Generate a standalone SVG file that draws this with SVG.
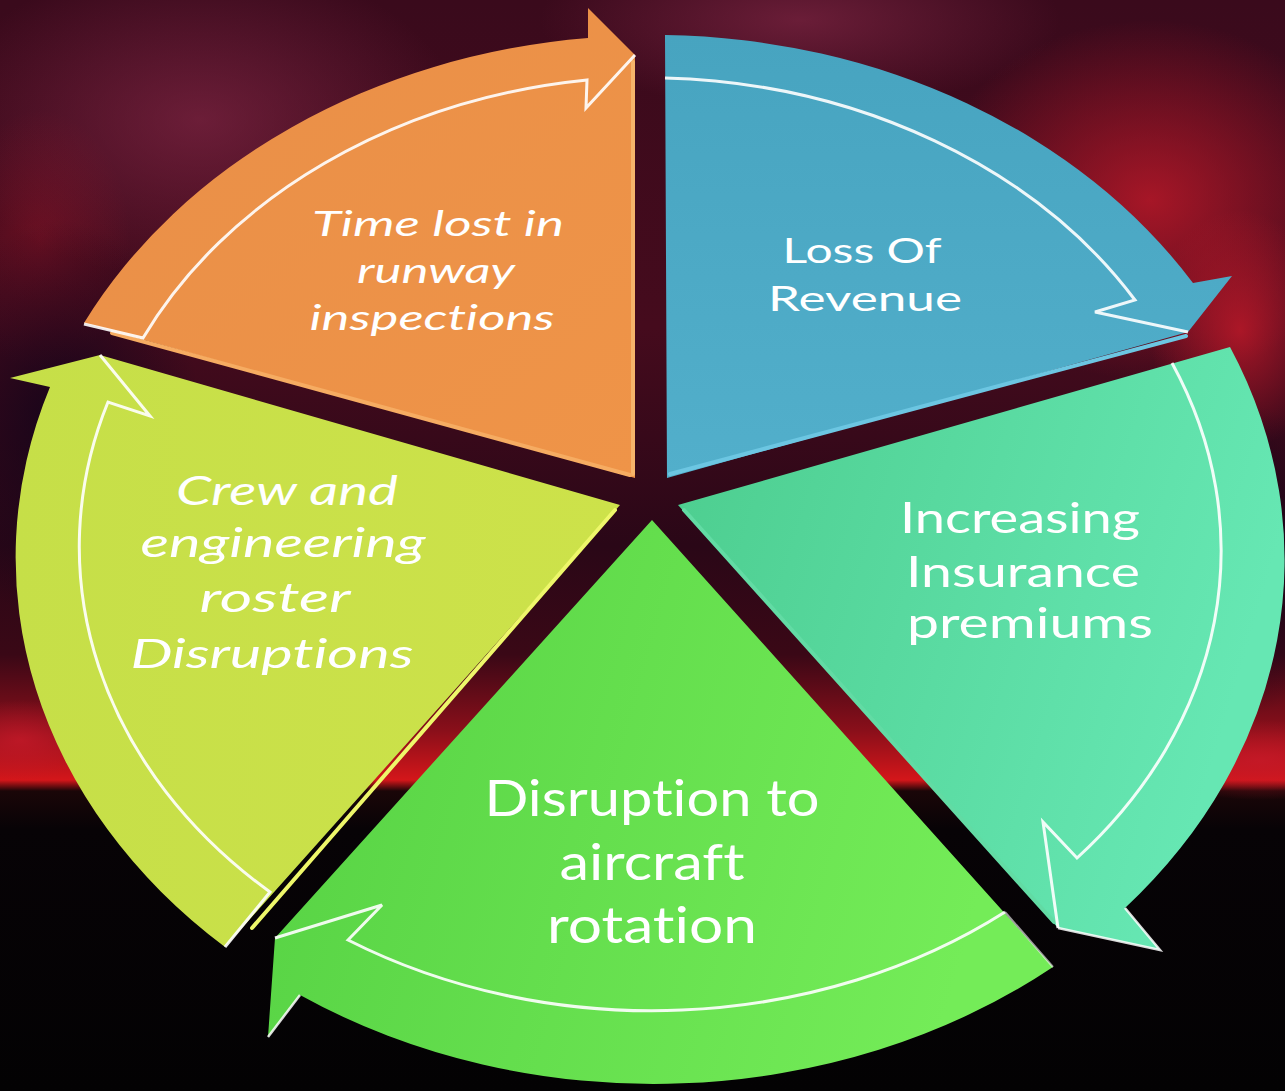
<svg xmlns="http://www.w3.org/2000/svg" width="1285" height="1091" viewBox="0 0 1285 1091">
<defs>
<linearGradient id="bg" x1="0" y1="0" x2="0" y2="1">
<stop offset="0" stop-color="#3a0a1c"/>
<stop offset="0.3" stop-color="#450b1d"/>
<stop offset="0.5" stop-color="#2a0717"/>
<stop offset="0.6" stop-color="#3a0816"/>
<stop offset="0.67" stop-color="#8a0f1a"/>
<stop offset="0.715" stop-color="#d4161a"/>
<stop offset="0.725" stop-color="#1a0608"/>
<stop offset="0.76" stop-color="#070306"/>
<stop offset="1" stop-color="#030203"/>
</linearGradient>
<radialGradient id="cloudR" cx="0.5" cy="0.5" r="0.5">
<stop offset="0" stop-color="#c81a2a" stop-opacity="0.75"/>
<stop offset="1" stop-color="#c81a2a" stop-opacity="0"/>
</radialGradient>
<radialGradient id="cloudS" cx="0.5" cy="0.5" r="0.5">
<stop offset="0" stop-color="#b0182a" stop-opacity="0.35"/>
<stop offset="1" stop-color="#b0182a" stop-opacity="0"/>
</radialGradient>
<radialGradient id="cloudP" cx="0.5" cy="0.5" r="0.5">
<stop offset="0" stop-color="#8a2a4a" stop-opacity="0.6"/>
<stop offset="1" stop-color="#8a2a4a" stop-opacity="0"/>
</radialGradient>
<radialGradient id="cloudD" cx="0.5" cy="0.5" r="0.5">
<stop offset="0" stop-color="#12041a" stop-opacity="0.85"/>
<stop offset="1" stop-color="#12041a" stop-opacity="0"/>
</radialGradient>
<linearGradient id="gOrange" x1="0" y1="0" x2="1" y2="1">
<stop offset="0" stop-color="#e98f48"/>
<stop offset="1" stop-color="#ef9448"/>
</linearGradient>
<linearGradient id="gBlue" x1="0" y1="0" x2="0" y2="1">
<stop offset="0" stop-color="#47a4c0"/>
<stop offset="1" stop-color="#52afcb"/>
</linearGradient>
<linearGradient id="gTeal" x1="0" y1="0" x2="1" y2="0.3">
<stop offset="0" stop-color="#4ccd8e"/>
<stop offset="1" stop-color="#66e7b3"/>
</linearGradient>
<linearGradient id="gGreen" x1="0" y1="0" x2="1" y2="0.2">
<stop offset="0" stop-color="#55d143"/>
<stop offset="1" stop-color="#74ec58"/>
</linearGradient>
<linearGradient id="gYellow" x1="0" y1="0" x2="1" y2="0">
<stop offset="0" stop-color="#c6df48"/>
<stop offset="1" stop-color="#cde24a"/>
</linearGradient>
<style>
.hl{fill:none;stroke:#ffffff;stroke-width:3;stroke-linejoin:miter;opacity:0.9}
.edge{fill:none;stroke-width:4;stroke-linecap:round}
.lbl{font-family:Lato,"Open Sans","DejaVu Sans",sans-serif;fill:#ffffff;text-anchor:middle;font-variant-ligatures:none}
.it{font-style:italic}
</style>
</defs>

<g id="background">
<rect x="0" y="0" width="1285" height="1091" fill="url(#bg)"/>
<ellipse cx="1150" cy="200" rx="220" ry="180" fill="url(#cloudR)"/>
<ellipse cx="1240" cy="330" rx="90" ry="120" fill="url(#cloudR)"/>
<ellipse cx="800" cy="20" rx="260" ry="90" fill="url(#cloudP)"/>
<ellipse cx="200" cy="120" rx="260" ry="160" fill="url(#cloudP)"/>
<ellipse cx="40" cy="240" rx="90" ry="130" fill="url(#cloudS)"/>
<ellipse cx="60" cy="420" rx="140" ry="200" fill="url(#cloudD)"/>
<ellipse cx="1230" cy="560" rx="120" ry="160" fill="url(#cloudD)"/>
<ellipse cx="1260" cy="760" rx="120" ry="40" fill="url(#cloudR)"/>
<ellipse cx="20" cy="740" rx="80" ry="40" fill="url(#cloudR)"/>
</g>

<g id="connectors"></g>

<g id="node-time-lost">
<path d="M 84,323 A 635 525 0 0 1 588,38 L 588,8 L 635,55 L 635,478 Z" fill="url(#gOrange)"/>
<line class="edge" x1="633" y1="62" x2="633" y2="474" stroke="#f6b46a"/>
<line class="edge" x1="112" y1="333" x2="630" y2="475" stroke="#f6ac62" stroke-width="3"/>
<path class="hl" d="M 84,324 L 143,338 A 572 463 0 0 1 587,80 L 586,108 L 635,55"/>
<text class="lbl it" font-size="34"><tspan x="438" y="236" textLength="252" lengthAdjust="spacingAndGlyphs">Time lost in</tspan><tspan x="436" y="283" textLength="158" lengthAdjust="spacingAndGlyphs">runway</tspan><tspan x="432" y="330" textLength="245" lengthAdjust="spacingAndGlyphs">inspections</tspan></text>
</g>

<g id="node-loss-of-revenue">
<path d="M 665,35 A 635 525 0 0 1 1193,283 L 1232,276 L 1188,332 L 667,478 Z" fill="url(#gBlue)"/>
<line class="edge" x1="670" y1="474" x2="1186" y2="336" stroke="#6cc6e2"/>
<path class="hl" d="M 665,78 A 572 463 0 0 1 1135,300 L 1095,312 L 1188,332"/>
<text class="lbl" font-size="35"><tspan x="862" y="263" textLength="159" lengthAdjust="spacingAndGlyphs">Loss Of</tspan><tspan x="865" y="311" textLength="194" lengthAdjust="spacingAndGlyphs">Revenue</tspan></text>
</g>

<g id="node-insurance">
<path d="M 1230,347 A 635 525 0 0 1 1125,908 L 1160,950 L 1058,928 L 678,505 Z" fill="url(#gTeal)"/>
<line class="edge" x1="684" y1="510" x2="1054" y2="922" stroke="#62dba4" stroke-width="3"/>
<path class="hl" d="M 1172,363 A 572 463 0 0 1 1077,858 L 1043,822 L 1058,928"/>
<path d="M 1125,908 L 1160,950 L 1058,928" fill="none" stroke="#ffffff" stroke-width="2.5" opacity="0.85"/>
<text class="lbl" font-size="43"><tspan x="1020" y="533" textLength="240" lengthAdjust="spacingAndGlyphs">Increasing</tspan><tspan x="1023" y="587" textLength="234" lengthAdjust="spacingAndGlyphs">Insurance</tspan><tspan x="1030" y="638" textLength="246" lengthAdjust="spacingAndGlyphs">premiums</tspan></text>
</g>

<g id="node-aircraft-rotation">
<path d="M 1053,967 A 635 525 0 0 1 300,995 L 268,1037 L 275,938 L 652,520 Z" fill="url(#gGreen)"/>
<path class="hl" d="M 1005,912 A 572 463 0 0 1 348,940 L 382,905 L 275,938"/>
<path d="M 1005,912 L 1053,967" fill="none" stroke="#ffffff" stroke-width="2" opacity="0.6"/>
<path d="M 300,995 L 268,1037" fill="none" stroke="#ffffff" stroke-width="2.5" opacity="0.85"/>
<text class="lbl" font-size="50"><tspan x="652" y="816" textLength="335" lengthAdjust="spacingAndGlyphs">Disruption to</tspan><tspan x="652" y="880" textLength="185" lengthAdjust="spacingAndGlyphs">aircraft</tspan><tspan x="652" y="943" textLength="210" lengthAdjust="spacingAndGlyphs">rotation</tspan></text>
</g>

<g id="node-crew-roster">
<path d="M 225,947 A 635 525 0 0 1 50,387 L 10,378 L 100,355 L 620,505 Z" fill="url(#gYellow)"/>
<line class="edge" x1="615" y1="510" x2="252" y2="928" stroke="#eef76a" stroke-width="5"/>
<path class="hl" d="M 225,947 L 270,892 A 572 463 0 0 1 108,402 L 150,416 L 100,355"/>
<text class="lbl it" font-size="40"><tspan x="287" y="505" textLength="222" lengthAdjust="spacingAndGlyphs">Crew and</tspan><tspan x="283" y="557" textLength="285" lengthAdjust="spacingAndGlyphs">engineering</tspan><tspan x="275" y="612" textLength="151" lengthAdjust="spacingAndGlyphs">roster</tspan><tspan x="272" y="668" textLength="283" lengthAdjust="spacingAndGlyphs">Disruptions</tspan></text>
</g>
</svg>
